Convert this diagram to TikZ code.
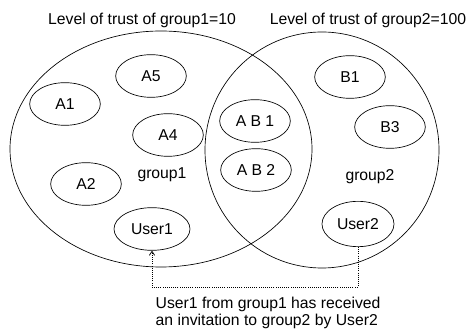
\documentclass[tikz,border=0pt]{standalone}
\usepackage{fontspec}
\setmainfont{Liberation Sans}
\usepackage{tikz}
\usetikzlibrary{arrows.meta, positioning, shapes.geometric}

\begin{document}
\begin{tikzpicture}[
  x=0.75pt, y=-0.75pt,
  every node/.style={font=\fontsize{11.8}{13}\selectfont},
  member/.style={ellipse, draw=black, line width=0.5pt, inner sep=0pt, minimum width=53pt, minimum height=32pt},
  grpnode/.style={ellipse, draw=black, line width=0.5pt, inner sep=0pt},
  invite/.style={densely dotted, line width=0.6pt}
]
  \useasboundingbox (0,0) rectangle (469,331);
  % The two groups
  \node[grpnode, minimum width=226.5pt, minimum height=177pt] (G1) at (161,149) {};
  \node[grpnode, minimum width=175.5pt, minimum height=177pt] (G2) at (322,150) {};
  \node (T1) at (142,20) {Level of trust of group1=10};
  \node (T2) at (368,20) {Level of trust of group2=100};
  \node (L1) at (162,175) {group1};
  \node (L2) at (370,177) {group2};
  % Members of group1
  \node[member] (A1) at (65,104) {A1};
  \node[member] (A5) at (151,76) {A5};
  \node[member] (A4) at (168,135) {A4};
  \node[member] (A2) at (86,184) {A2};
  \node[member, minimum width=57pt] (U1) at (152,229) {User1};
  % Members of both groups
  \node[member] (AB1) at (255,121) {A B 1};
  \node[member] (AB2) at (256,170) {A B 2};
  % Members of group2
  \node[member] (B1) at (350,77) {B1};
  \node[member] (B3) at (390,127) {B3};
  \node[member, minimum width=54pt, minimum height=34pt] (U2) at (358,224) {User2};
  % Invitation from User2 to User1
  \coordinate (bend) at (358,287);
  \draw[invite, -{Straight Barb[length=3pt, width=4pt]}] (U2.south) -- (bend) -| (U1.south);
  \node[anchor=west, align=left] (note) at (151,313)
    {User1 from group1 has received\\an invitation to group2 by User2};
\end{tikzpicture}
\end{document}
